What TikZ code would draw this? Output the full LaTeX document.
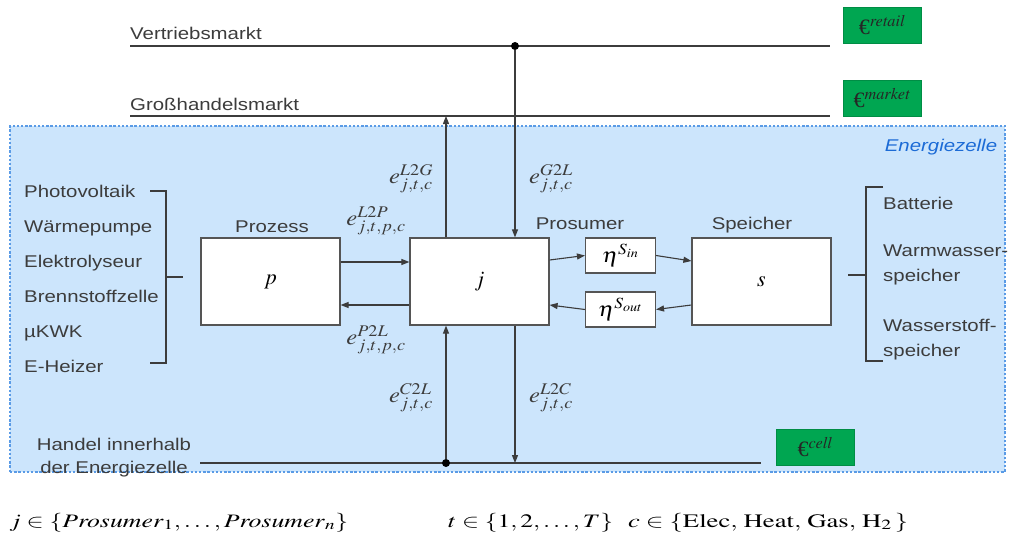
\documentclass[tikz,border=0pt]{standalone}
\usepackage{mathptmx}
\usepackage[no-math]{fontspec}
\newfontfamily\lab{Liberation Sans}[FakeStretch=1.2]
\newfontfamily\serif{Liberation Serif}
\usetikzlibrary{arrows.meta}
\definecolor{cellfill}{HTML}{CCE5FC}
\definecolor{cellline}{HTML}{5A9BE6}
\definecolor{celltext}{HTML}{1C6BD6}
\definecolor{price}{HTML}{00A651}
\definecolor{ink}{HTML}{3C3C3C}
\definecolor{boxline}{HTML}{555555}
% math set slightly wide, like the sans labels
\newcommand{\wide}[1]{\scalebox{1.12}[1]{#1}}
\tikzset{
  lbl/.style={font=\lab\fontsize{17}{20}\selectfont, text=ink, inner sep=0},
  mlab/.style={font=\fontsize{22}{26}\selectfont, text=ink, inner sep=0},
  setlab/.style={font=\fontsize{19}{23}\selectfont, text=black, inner sep=0, anchor=base west},
  unit/.style={draw=boxline, line width=1.2pt, fill=white, minimum width=139pt,
    minimum height=87pt, inner sep=0, font=\fontsize{22}{26}\selectfont},
  eta/.style={draw=boxline, line width=1.1pt, fill=white, minimum width=70pt,
    minimum height=35pt, inner sep=0, font=\fontsize{21}{25}\selectfont},
  euro/.style={fill=price, draw=price!85!black, line width=0.6pt, minimum width=78pt,
    minimum height=36pt, inner sep=0, text=black!85, font=\serif\fontsize{22}{26}\selectfont},
  market/.style={line width=1.5pt, draw=ink},
  flow/.style={line width=1.1pt, draw=ink, -{Triangle[length=8pt,width=6pt]}},
  brace/.style={line width=1.2pt, draw=ink},
  junction/.style={circle, fill=black, inner sep=0, minimum size=8pt},
  cellbox/.style={fill=cellfill, draw=cellline, line width=1.6pt,
    dash pattern=on 2.4pt off 1.8pt, inner sep=0}
}
\begin{document}
\begin{tikzpicture}[x=1pt,y=-1pt]
\useasboundingbox (0,0) rectangle (1011,535);

% energy cell area
\node[cellbox, minimum width=995pt, minimum height=346pt] (cell) at (507.5,299) {};
\node[lbl, text=celltext, font=\lab\itshape\fontsize{17}{20}\selectfont] (celllab) at (941,147) {Energiezelle};

% market lines
\node[lbl, anchor=base west] (vmlab) at (130,40) {Vertriebsmarkt};
\coordinate (vm-l) at (130,46);
\coordinate (vm-r) at (830,46);
\draw[market] (vm-l) -- (vm-r);
\node[junction] (vj) at (515,46) {};

\node[lbl, anchor=base west] (ghlab) at (130,110) {Großhandelsmarkt};
\coordinate (gh-l) at (130,116);
\coordinate (gh-r) at (830,116);
\draw[market] (gh-l) -- (gh-r);
\coordinate (gh-up) at (446,116);

% internal trading line
\node[lbl, align=center] (hdlab) at (114,458) {Handel innerhalb\\[3pt]der Energiezelle};
\coordinate (hd-l) at (200,463);
\coordinate (hd-r) at (761,463);
\draw[market] (hd-l) -- (hd-r);
\node[junction] (hd) at (446,463) {};
\coordinate (hc) at (515,463);

% price tags
\node[euro] (pretail) at (882,25) {€$^{\mathit{retail}}$};
\node[euro] (pmarket) at (882,98) {€$^{\mathit{market}}$};
\node[euro] (pcell) at (815,447.5) {€$^{\mathit{cell}}$};

% units
\node[unit] (p) at (270.5,281.5) {$p$};
\node[unit] (j) at (479.5,281.5) {$j$};
\node[unit] (s) at (761.5,281.5) {$s$};
\node[eta] (ein) at (620.5,255.5) {\wide{$\eta^{S_{in}}$}};
\node[eta] (eout) at (620.5,309.5) {\wide{$\eta^{S_{out}}$}};

\node[lbl, anchor=base] (plab) at (272,232) {Prozess};
\node[lbl, anchor=base] (jlab) at (580,229) {Prosumer};
\node[lbl, anchor=base] (slab) at (752,229) {Speicher};

% flows between units
\draw[flow] ([yshift=19.5pt]p.east) -- ([yshift=19.5pt]j.west);
\draw[flow] ([yshift=-23.5pt]j.west) -- ([yshift=-23.5pt]p.east);
\draw[flow] ([yshift=21.5pt]j.east) -- (ein.west);
\draw[flow] (ein.east) -- ([yshift=20.5pt]s.west);
\draw[flow] ([yshift=-23.5pt]s.west) -- (eout.east);
\draw[flow] (eout.west) -- ([yshift=-23.5pt]j.east);

% flows to markets and cell trading
\draw[flow] (j.north -| gh-up) -- (gh-up);
\draw[flow] (vj) -- (vj |- j.north);
\draw[flow] (hd) -- (hd |- j.south);
\draw[flow] (j.south -| hc) -- (hc);

% flow labels
\node[mlab] (l2g) at (411,179) {\wide{$e^{L2G}_{j,t,c}$}};
\node[mlab] (l2p) at (376,221) {\wide{$e^{L2P}_{j,t,p,c}$}};
\node[mlab] (g2l) at (551,179) {\wide{$e^{G2L}_{j,t,c}$}};
\node[mlab] (p2l) at (376,340) {\wide{$e^{P2L}_{j,t,p,c}$}};
\node[mlab] (c2l) at (411,398) {\wide{$e^{C2L}_{j,t,c}$}};
\node[mlab] (l2c) at (551,398) {\wide{$e^{L2C}_{j,t,c}$}};

% process technologies
\node[lbl, anchor=base west] (t1) at (24,197) {Photovoltaik};
\node[lbl, anchor=base west] (t2) at (24,232) {Wärmepumpe};
\node[lbl, anchor=base west] (t3) at (24,267) {Elektrolyseur};
\node[lbl, anchor=base west] (t4) at (24,302) {Brennstoffzelle};
\node[lbl, anchor=base west] (t5) at (24,337) {µKWK};
\node[lbl, anchor=base west] (t6) at (24,372) {E-Heizer};
\coordinate (lb-t) at (150,191);
\coordinate (lb-b) at (150,363);
\coordinate (lb-m) at (183,277);
\draw[brace] (lb-t) -- ++(16,0) |- (lb-b);
\draw[brace] (166,277) -- (lb-m);

% storage technologies
\node[lbl, anchor=base west] (s1) at (883,209) {Batterie};
\node[lbl, anchor=base west] (s2) at (883,256) {Warmwasser-};
\node[lbl, anchor=base west] (s2b) at (883,281) {speicher};
\node[lbl, anchor=base west] (s3) at (883,331) {Wasserstoff-};
\node[lbl, anchor=base west] (s3b) at (883,356) {speicher};
\coordinate (rb-t) at (883,187);
\coordinate (rb-b) at (883,361);
\coordinate (rb-m) at (848,275);
\draw[brace] (rb-t) -- ++(-17,0) |- (rb-b);
\draw[brace] (866,275) -- (rb-m);

% index sets
\node[setlab] (setj) at (9,527)
  {\resizebox{339pt}{\height}{$j\in\{\mathit{Prosumer}_1,\ldots,\mathit{Prosumer}_n\}$}};
\node[setlab] (sett) at (448,527)
  {\resizebox{165pt}{\height}{$t\in\{1,2,\ldots,T\}$}};
\node[setlab] (setc) at (628,527)
  {\resizebox{280pt}{\height}{$c\in\{\mathrm{Elec},\,\mathrm{Heat},\,\mathrm{Gas},\,\mathrm{H}_2\,\}$}};
\end{tikzpicture}
\end{document}
